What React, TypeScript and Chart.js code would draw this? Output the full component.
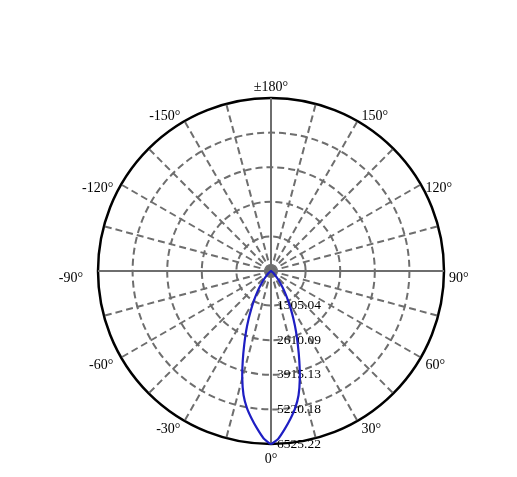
import { useEffect, useRef } from "react"
import { Chart, registerables } from "chart.js"

Chart.register(...registerables)

const STEP = 2.5
// gamma angles around the plot, clockwise from the top (180° at top, 0° at bottom)
const ANGLES = Array.from({ length: 360 / STEP }, (_, i) => 180 - i * STEP)
// angles that get a label on the rim
const RIM_LABELS = [180, 150, 120, 90, 60, 30, 0, -30, -60, -90, -120, -150]

// luminous intensity (cd) at 0°, 2.5°, 5° ... 180° on the positive side
const INTENSITY_POS = [
  6525, 6330, 5980, 5620, 5250, 4800, 4200, 3550, 2960, 2460, 2010, 1620, 1290, 1010, 780,
  590, 430, 300, 210, 140, 90, 60, 35, 20, 12, 8, 5, 3, 2,
  0, 0, 0, 0, 0, 0, 0, 0, 0, 0, 0, 0, 0, 0, 0, 0, 0, 0, 0, 0, 0, 0,
  0, 0, 0, 0, 0, 0, 0, 0, 0, 0, 0, 0, 0, 0, 0, 0, 0, 0, 0, 0, 0, 0,
]
// same for 0°, -2.5°, -5° ... -180°
const INTENSITY_NEG = [
  6525, 6320, 5970, 5610, 5240, 4790, 4190, 3540, 2950, 2450, 2000, 1610, 1290, 1010, 780,
  590, 430, 300, 210, 140, 90, 60, 35, 20, 12, 8, 5, 3, 2,
  0, 0, 0, 0, 0, 0, 0, 0, 0, 0, 0, 0, 0, 0, 0, 0, 0, 0, 0, 0, 0, 0,
  0, 0, 0, 0, 0, 0, 0, 0, 0, 0, 0, 0, 0, 0, 0, 0, 0, 0, 0, 0, 0, 0,
]

// ring values of the radial axis
const RING_VALUES = [1305.04, 2610.09, 3915.13, 5220.18, 6525.22]

const SERIF = "'Liberation Serif', 'Times New Roman', serif"
const GRID = "#6e6e6e"

// spokes every 15°, solid ones every 90°
const SPOKE_EVERY = 15 / STEP
const SOLID_EVERY = 90 / STEP

const valueAt = (deg: number) =>
  deg >= 0 ? INTENSITY_POS[Math.round(deg / STEP)] : INTENSITY_NEG[Math.round(-deg / STEP)]
const rimText = (deg: number) => (deg === 180 ? "±180°" : `${deg}°`)

const polarText = {
  id: "polarText",
  beforeDatasetsDraw(chart: any) {
    const scale = chart.scales.r
    const ctx = chart.ctx
    const zeroIndex = ANGLES.indexOf(0)
    ctx.save()
    ctx.fillStyle = "#000"
    ctx.font = `13.5px ${SERIF}`
    ctx.textAlign = "left"
    ctx.textBaseline = "middle"
    RING_VALUES.forEach((v) => {
      const p = scale.getPointPosition(zeroIndex, scale.getDistanceFromCenterForValue(v))
      ctx.fillText(v.toFixed(2), p.x + 6, p.y)
    })
    ctx.restore()
  },
  afterDraw(chart: any) {
    const scale = chart.scales.r
    const ctx = chart.ctx
    ctx.save()
    ctx.fillStyle = "#000"
    ctx.font = `14px ${SERIF}`
    ctx.textBaseline = "middle"
    RIM_LABELS.forEach((deg) => {
      const i = ANGLES.indexOf(deg)
      const a = scale.getIndexAngle(i)
      const s = Math.sin(a)
      const u = Math.cos(a)
      const p = scale.getPointPosition(i, scale.drawingArea + 2)
      ctx.textAlign = s > 0.1 ? "left" : s < -0.1 ? "right" : "center"
      const dx = s > 0.1 ? 3 : s < -0.1 ? -3 - 10 * Math.max(0, -s) ** 8 : 0
      const dy = u >= 0 ? 7 - 16 * u ** 3 : u < -0.95 ? 13 : 7
      ctx.fillText(rimText(deg), p.x + dx, p.y + dy)
    })
    ctx.restore()
  },
}

export default function App() {
  const canvasRef = useRef<HTMLCanvasElement | null>(null)

  useEffect(() => {
    if (!canvasRef.current) return
    const last = RING_VALUES.length

    const chart = new Chart(canvasRef.current, {
      type: "radar",
      data: {
        labels: ANGLES.map(rimText),
        datasets: [
          {
            data: ANGLES.map(valueAt),
            borderColor: "rgb(30, 30, 195)",
            borderWidth: 2.2,
            pointRadius: 0,
            fill: false,
            tension: 0.15,
          },
        ],
      },
      options: {
        responsive: false,
        animation: false,
        layout: { padding: { left: 98, top: 98, right: 73, bottom: 33 } },
        plugins: { legend: { display: false }, tooltip: { enabled: false } },
        scales: {
          r: {
            min: 0,
            max: RING_VALUES[RING_VALUES.length - 1],
            startAngle: 0,
            afterBuildTicks: (scale: any) => {
              scale.ticks = [0, ...RING_VALUES].map((value) => ({ value }))
            },
            ticks: { display: false },
            pointLabels: { display: false },
            grid: {
              circular: true,
              color: (c: any) => (c.index === last ? "#000" : GRID),
              lineWidth: (c: any) => (c.index === last ? 2.5 : 2),
            },
            border: {
              dash: (c: any) => (c.index === last ? [] : [7, 4]),
            },
            angleLines: {
              color: (c: any) => (c.index % SPOKE_EVERY === 0 ? GRID : "rgba(0,0,0,0)"),
              lineWidth: (c: any) => (c.index % SPOKE_EVERY === 0 ? 2 : 0),
              borderDash: (c: any) => (c.index % SOLID_EVERY === 0 ? [] : [7, 4]),
            },
          },
        },
      },
      plugins: [polarText],
    } as any)

    return () => chart.destroy()
  }, [])

  return (
    <div style={{ position: "fixed", left: 0, top: 0, width: 517, height: 477, background: "#fff" }}>
      <canvas ref={canvasRef} width={517} height={477} />
    </div>
  )
}
